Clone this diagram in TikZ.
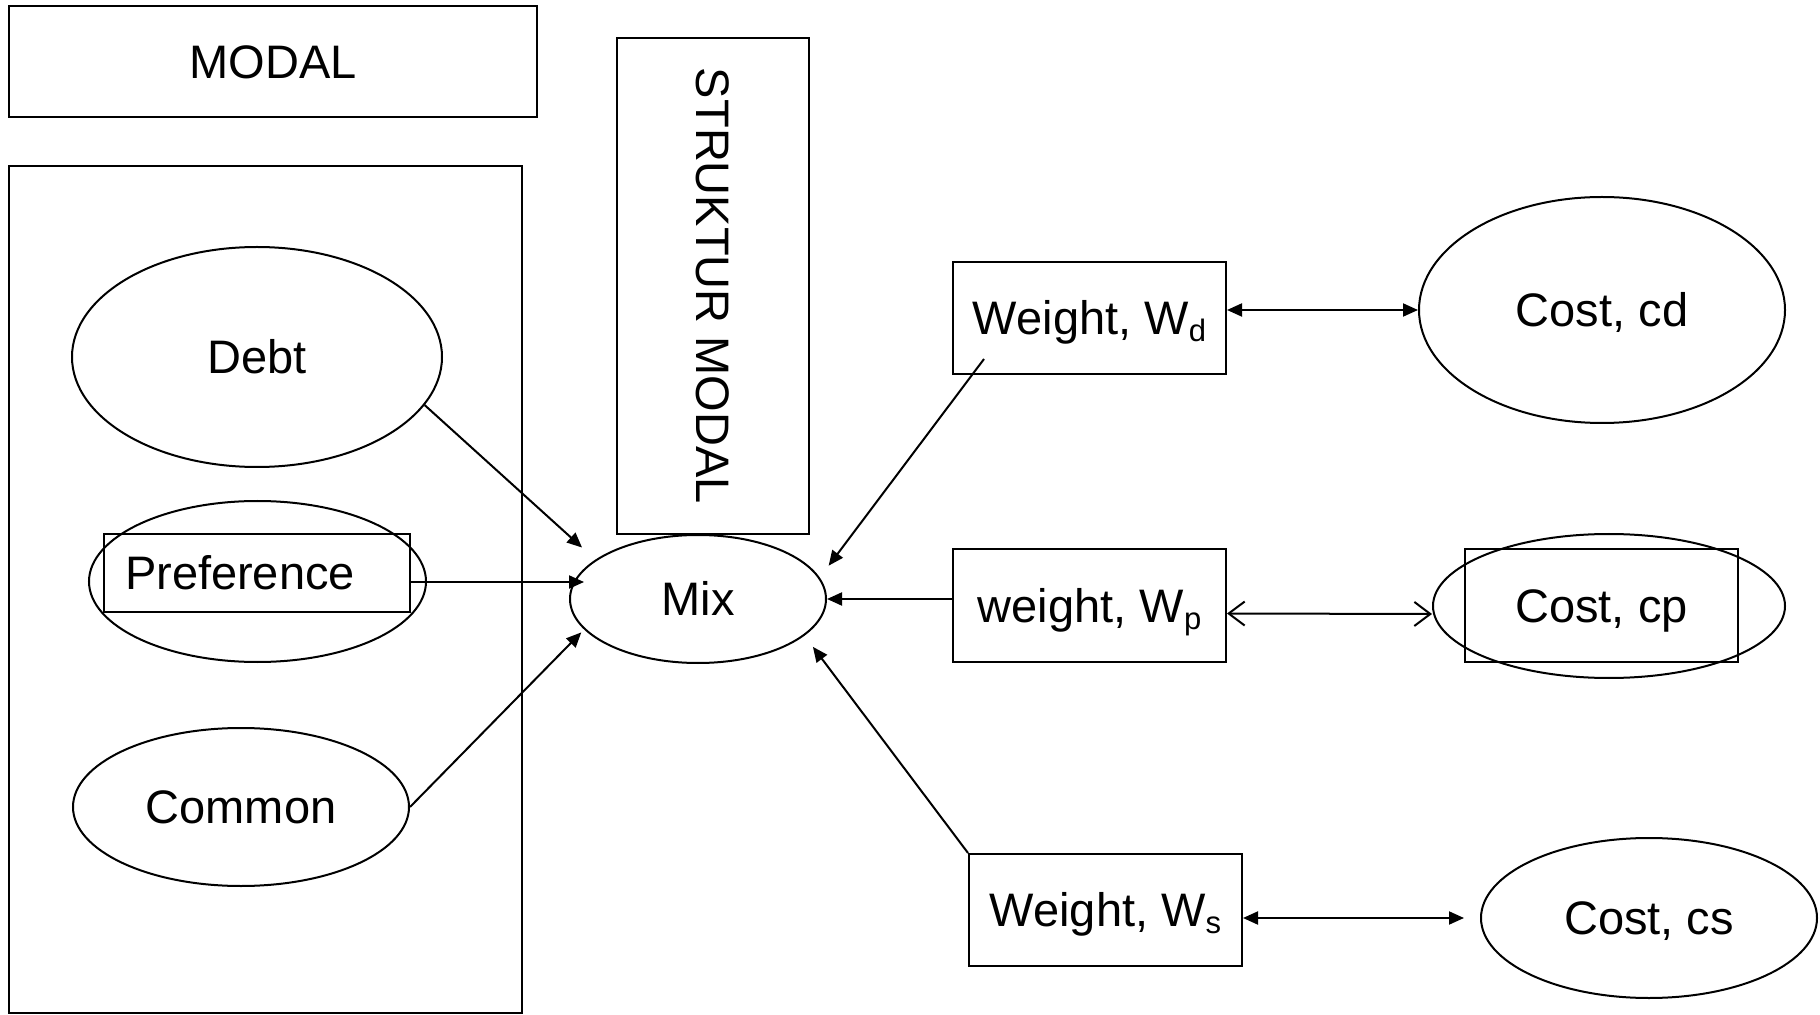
\documentclass[tikz,border=0pt]{standalone}
\usepackage{fontspec}
\setmainfont{Liberation Sans}
\usetikzlibrary{shapes.geometric,arrows.meta}

\newcommand{\lowsub}[1]{\raisebox{-3.5pt}{\fontsize{15.5}{15.5}\selectfont #1}}

\begin{document}
\begin{tikzpicture}[x=0.5pt,y=-0.5pt,line width=1pt,
  every node/.style={font=\fontsize{23.5}{28}\selectfont,text height=16.8pt,text depth=0pt},
  box/.style={draw,rectangle,inner sep=0pt},
  oval/.style={draw,ellipse,inner sep=0pt},
  link/.style={-{Triangle[length=7.5pt,width=6.5pt]}},
  both/.style={{Triangle[length=7.5pt,width=6.5pt]}-{Triangle[length=7.5pt,width=6.5pt]}},
  openboth/.style={{Straight Barb[length=8pt,width=12pt]}-{Straight Barb[length=8pt,width=12pt]}}]
\useasboundingbox (0,0) rectangle (1820,1015);

% left column
\node[box,minimum width=264pt,minimum height=55.5pt] (modal) at (273,61.5) {MODAL};
\node[box,minimum width=256.5pt,minimum height=423.5pt] (frame) at (265.5,589.5) {};
\node[oval,minimum width=185pt,minimum height=110pt] (debt) at (257,357) {Debt};
\node[oval,minimum width=168.5pt,minimum height=80.5pt] (pref) at (257.5,581.5) {};
\node[box,minimum width=153pt,minimum height=39pt,text width=132pt,inner xsep=10.5pt,align=left] (prefbox) at (257,573) {Preference};
\node[oval,minimum width=168pt,minimum height=79pt] (common) at (241,807) {Common};

% centre
\node[box,rotate=-90,minimum width=248pt,minimum height=96pt] (struktur) at (713,286) {STRUKTUR MODAL};
\node[oval,minimum width=128pt,minimum height=64pt] (mix) at (698,599) {Mix};

% weights
\node[box,minimum width=136.5pt,minimum height=56pt] (wd) at (1089.5,318) {Weight, W\lowsub{d}};
\node[box,minimum width=136.5pt,minimum height=56.5pt] (wp) at (1089.5,605.5) {weight, W\lowsub{p}};
\node[box,minimum width=136.5pt,minimum height=56pt] (ws) at (1105.5,910) {Weight, W\lowsub{s}};

% costs
\node[oval,minimum width=183pt,minimum height=113pt] (costd) at (1602,310) {Cost, cd};
\node[oval,minimum width=176pt,minimum height=72pt] (costp) at (1609,606) {};
\node[box,minimum width=136.5pt,minimum height=56.5pt] (costpbox) at (1601.5,605.5) {Cost, cp};
\node[oval,minimum width=168pt,minimum height=80pt] (costs) at (1649,918) {Cost, cs};

% connectors into Mix
\draw[link,shorten >=9pt] (debt.-16) -- (mix.159);
\draw[link] ([yshift=-4.5pt]prefbox.east) -- ([xshift=7.5pt,yshift=8.5pt]mix.west);
\draw[link,shorten >=2pt] (common.east) -- (mix.195);
\draw[link,shorten >=7.4pt] ([xshift=16pt,yshift=8pt]wd.south west) -- (mix.10);
\draw[link] (wp.west |- mix.east) -- (mix.east);
\draw[link,shorten >=7pt] (ws.north west) -- (mix.-19.5);

% weight <-> cost
\draw[both] (wd.east |- costd.west) -- (costd.west);
\draw[openboth] ([yshift=-4pt]wp.east) -- ([yshift=-4pt]costp.west);
\draw[both] (ws.east |- costs.west) -- ([xshift=-8pt]costs.west);
\end{tikzpicture}
\end{document}
